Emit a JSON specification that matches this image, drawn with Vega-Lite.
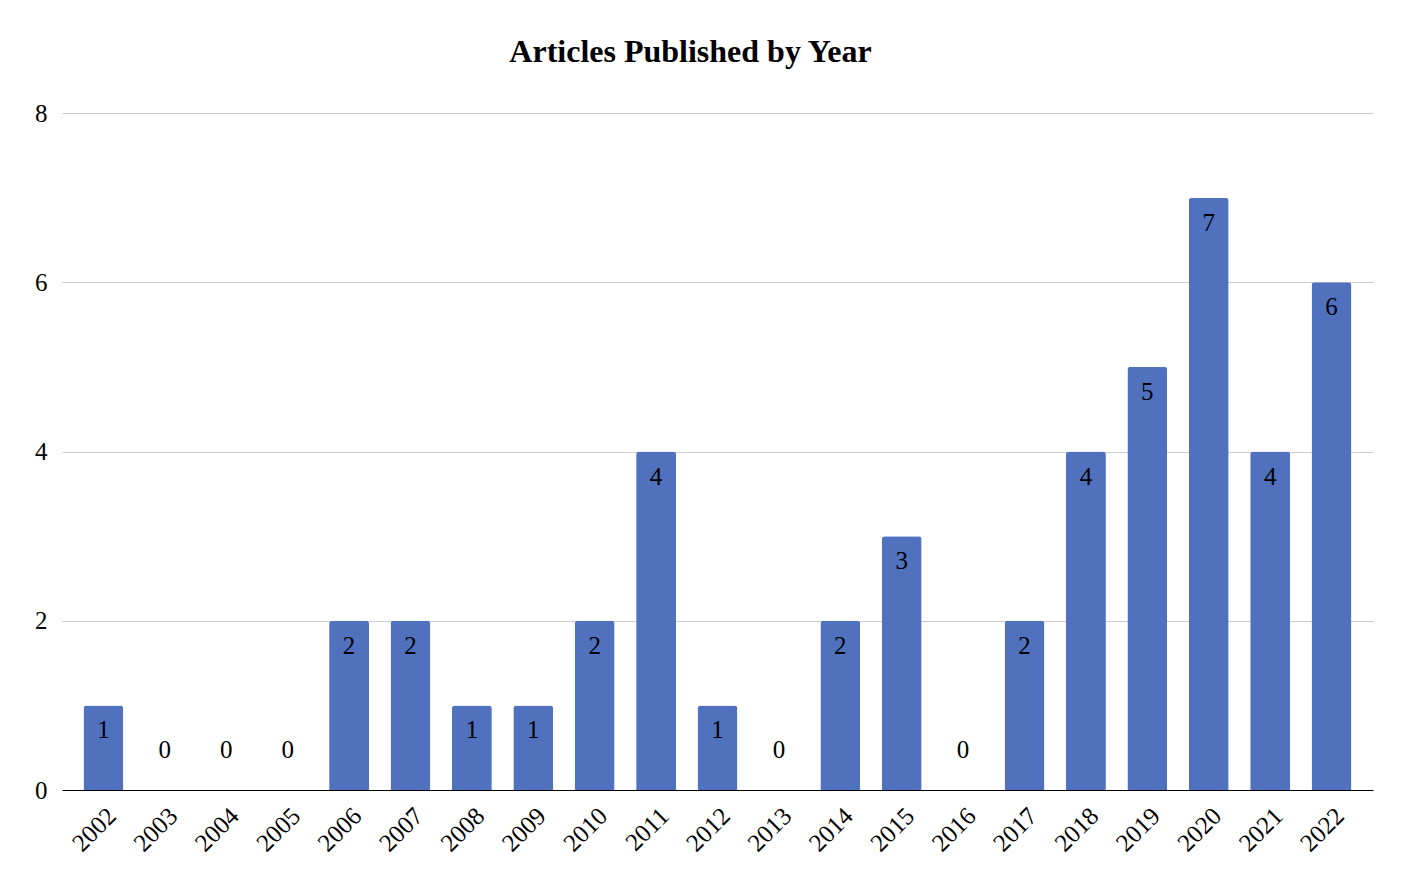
{
  "$schema": "https://vega.github.io/schema/vega-lite/v6.json",
  "autosize": {"type": "none"},
  "padding": {"left": 62, "top": 113, "right": 29, "bottom": 100},
  "width": 1311,
  "height": 677,
  "title": {
    "text": "Articles Published by Year",
    "font": "Liberation Serif",
    "fontSize": 32,
    "fontWeight": "bold",
    "color": "black",
    "anchor": "middle",
    "offset": 32,
    "dx": -27
  },
  "config": {
    "background": "white",
    "view": {"stroke": null},
    "font": "Liberation Serif"
  },
  "data": {
    "values": [
      {"year": "2002", "articles": 1},
      {"year": "2003", "articles": 0},
      {"year": "2004", "articles": 0},
      {"year": "2005", "articles": 0},
      {"year": "2006", "articles": 2},
      {"year": "2007", "articles": 2},
      {"year": "2008", "articles": 1},
      {"year": "2009", "articles": 1},
      {"year": "2010", "articles": 2},
      {"year": "2011", "articles": 4},
      {"year": "2012", "articles": 1},
      {"year": "2013", "articles": 0},
      {"year": "2014", "articles": 2},
      {"year": "2015", "articles": 3},
      {"year": "2016", "articles": 0},
      {"year": "2017", "articles": 2},
      {"year": "2018", "articles": 4},
      {"year": "2019", "articles": 5},
      {"year": "2020", "articles": 7},
      {"year": "2021", "articles": 4},
      {"year": "2022", "articles": 6}
    ]
  },
  "encoding": {
    "x": {
      "field": "year",
      "type": "ordinal",
      "scale": {"paddingInner": 0.35, "paddingOuter": 0.35},
      "axis": {
        "title": null,
        "labelAngle": -45,
        "labelFont": "Liberation Serif",
        "labelFontSize": 25,
        "labelColor": "black",
        "labelPadding": 13,
        "ticks": false,
        "domainColor": "black",
        "domainWidth": 1.2,
        "grid": false
      }
    },
    "y": {
      "field": "articles",
      "type": "quantitative",
      "scale": {"domain": [0, 8]},
      "axis": {
        "title": null,
        "values": [0, 2, 4, 6, 8],
        "labelFont": "Liberation Serif",
        "labelFontSize": 25,
        "labelColor": "black",
        "labelPadding": 15,
        "ticks": false,
        "domain": false,
        "gridColor": "#cccccc",
        "gridWidth": 1
      }
    }
  },
  "layer": [
    {
      "mark": {"type": "bar", "color": "#4f71be", "cornerRadiusTopLeft": 3, "cornerRadiusTopRight": 3}
    },
    {
      "transform": [{"filter": "datum.articles > 0"}],
      "mark": {"type": "text", "baseline": "middle", "dy": 25, "fontSize": 25, "color": "black"},
      "encoding": {"text": {"field": "articles", "type": "quantitative"}}
    },
    {
      "transform": [{"filter": "datum.articles == 0"}],
      "mark": {"type": "text", "baseline": "middle", "dy": -40, "fontSize": 25, "color": "black"},
      "encoding": {"text": {"field": "articles", "type": "quantitative"}}
    }
  ]
}
